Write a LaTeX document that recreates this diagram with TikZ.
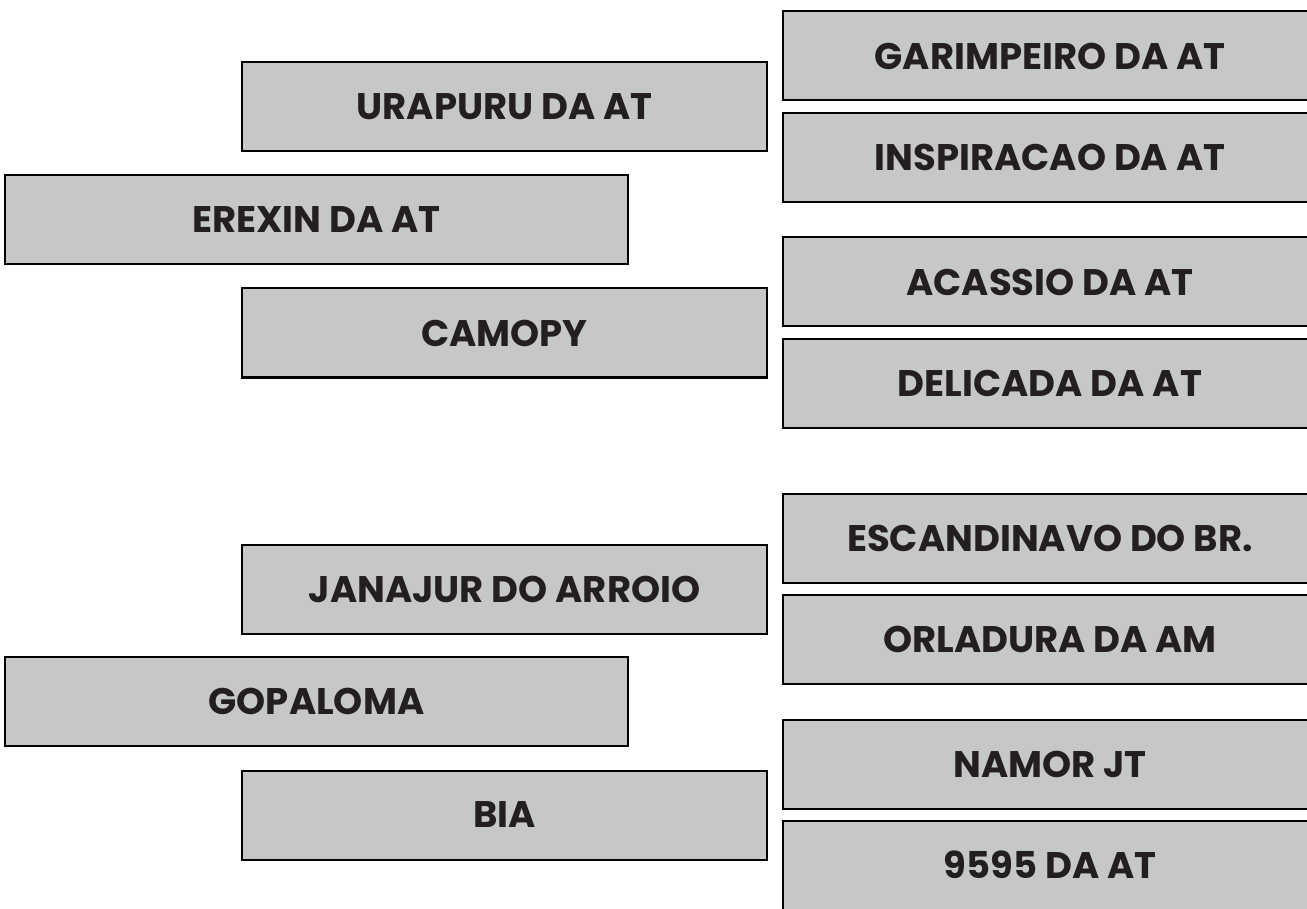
\documentclass[tikz,border=0pt]{standalone}
\usepackage{fontspec}
\setsansfont{Poppins}
\tikzset{
  lbox/.style={draw=black, line width=2pt, fill=boxgray, minimum width=525pt, minimum height=89pt, inner sep=0pt, font=\sffamily\bfseries\fontsize{37}{42}\selectfont, text=txt},
  wbox/.style={lbox, minimum width=623pt},
  rbox/.style={lbox, minimum width=534pt},
}
\definecolor{boxgray}{HTML}{C6C7C9}
\definecolor{txt}{HTML}{231F20}
\begin{document}
\begin{tikzpicture}[x=1pt,y=-1pt]
\useasboundingbox (0,0) rectangle (1307,909);
\clip (0,0) rectangle (1307,909);
\node[lbox] (urapuru) at (504.5,107) {URAPURU DA AT};
\node[wbox] (erexin) at (316.5,220) {EREXIN DA AT};
\node[lbox] (camopy) at (504.5,333) {CAMOPY};
\node[rbox] (garimpeiro) at (1050,56) {GARIMPEIRO DA AT};
\node[rbox] (inspiracao) at (1050,157.5) {INSPIRACAO DA AT};
\node[rbox] (acassio) at (1050,282) {ACASSIO DA AT};
\node[rbox] (delicada) at (1050,383.5) {DELICADA DA AT};
\node[rbox] (escandinavo) at (1050,538) {ESCANDINAVO DO BR.};
\node[rbox] (orladura) at (1050,639) {ORLADURA DA AM};
\node[rbox] (namor) at (1050,764) {NAMOR JT};
\node[rbox] (n9595) at (1050,865) {9595 DA AT};
\node[lbox] (janajur) at (504.5,589) {JANAJUR DO ARROIO};
\node[wbox] (gopaloma) at (316.5,701.5) {GOPALOMA};
\node[lbox] (bia) at (504.5,815) {BIA};
\end{tikzpicture}
\end{document}
